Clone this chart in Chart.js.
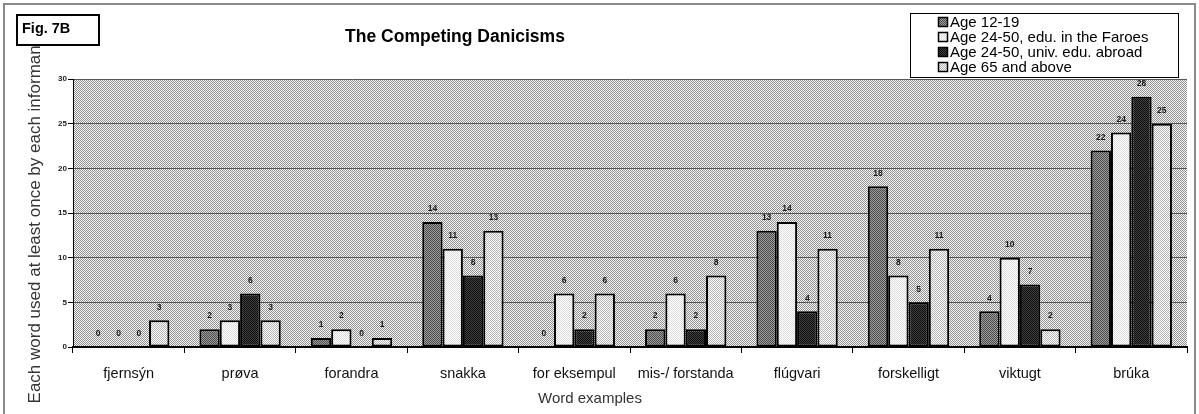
<!DOCTYPE html>
<html>
<head>
<meta charset="utf-8">
<script src="https://cdn.jsdelivr.net/npm/chart.js@4"></script>
<style>
    html, body { margin: 0; padding: 0; background: #fff; overflow: hidden; }
    #wrap { position: relative; width: 1199px; height: 414px; }
    #frame { position: absolute; left: 3px; top: 3px; width: 1189px; height: 440px; border: 2px solid #8a8a8a; pointer-events: none; }
</style>
</head>
<body>
<div id="wrap">
    <canvas id="barChart"></canvas>
    <div id="frame"></div>
</div>
<script>
var categories = ['fjernsýn', 'prøva', 'forandra', 'snakka', 'for eksempul', 'mis-/ forstanda', 'flúgvari', 'forskelligt', 'viktugt', 'brúka'];
var seriesNames = ['Age 12-19', 'Age 24-50, edu. in the Faroes', 'Age 24-50, univ. edu. abroad', 'Age 65 and above'];
var age12to19 = [0, 2, 1, 14, 0, 2, 13, 18, 4, 22];
var age24to50Faroes = [0, 3, 2, 11, 6, 6, 14, 8, 10, 24];
var age24to50Abroad = [0, 6, 0, 8, 2, 2, 4, 5, 7, 28];
var age65plus = [3, 3, 1, 13, 6, 8, 11, 11, 2, 25];
var yTicks = [0, 5, 10, 15, 20, 25, 30];
var yTitle = 'Each word used at least once by each informant';
var xTitle = 'Word examples';

// small dotted fills, like the old print patterns
function dots(light, dark) {
    var c = document.createElement('canvas');
    c.width = 2; c.height = 2;
    var x = c.getContext('2d');
    x.fillStyle = light; x.fillRect(0, 0, 2, 2);
    x.fillStyle = dark; x.fillRect(0, 0, 1, 1); x.fillRect(1, 1, 1, 1);
    return x.createPattern(c, 'repeat');
}

var plotFill = dots('#f4f4f4', '#929292');
var fills = [dots('#9c9c9c', '#4c4c4c'), dots('#ffffff', '#dcdcdc'), dots('#444444', '#0a0a0a'), dots('#ffffff', '#b4b4b4')];
var seriesData = [age12to19, age24to50Faroes, age24to50Abroad, age65plus];

Chart.defaults.font.family = "'Liberation Sans', Arial, sans-serif";
Chart.defaults.color = '#222';

var decor = {
    id: 'decor',
    beforeDraw: function (chart) {
        var a = chart.chartArea, ctx = chart.ctx;
        ctx.save();
        ctx.fillStyle = plotFill;
        ctx.fillRect(a.left, a.top, a.right - a.left, a.bottom - a.top);
        ctx.restore();
    },
    afterDatasetsDraw: function (chart) {
        var ctx = chart.ctx;
        ctx.save();
        ctx.font = 'bold 8.5px "Liberation Sans", Arial, sans-serif';
        ctx.fillStyle = '#1a1a1a';
        ctx.textAlign = 'center';
        ctx.textBaseline = 'middle';
        chart.data.datasets.forEach(function (ds, i) {
            chart.getDatasetMeta(i).data.forEach(function (bar, j) {
                ctx.fillText(ds.data[j], bar.x, bar.y - 13);
            });
        });
        ctx.restore();
    },
    afterDraw: function (chart) {
        var ctx = chart.ctx;
        ctx.save();
        // y axis title (sits a little below the plot centre in the original)
        ctx.save();
        ctx.translate(35, 222);
        ctx.rotate(-Math.PI / 2);
        ctx.font = '17px "Liberation Sans", Arial, sans-serif';
        ctx.fillStyle = '#333';
        ctx.textAlign = 'center';
        ctx.textBaseline = 'middle';
        ctx.fillText(yTitle, 0, 0);
        ctx.restore();
        // fig box
        ctx.fillStyle = '#fff';
        ctx.fillRect(17, 15, 82, 30);
        ctx.strokeStyle = '#000';
        ctx.lineWidth = 2;
        ctx.strokeRect(17, 15, 82, 30);
        ctx.fillStyle = '#000';
        ctx.font = 'bold 14.5px "Liberation Sans", Arial, sans-serif';
        ctx.textBaseline = 'alphabetic';
        ctx.fillText('Fig. 7B', 22, 33);
        // title
        ctx.font = 'bold 17.5px "Liberation Sans", Arial, sans-serif';
        ctx.textAlign = 'center';
        ctx.textBaseline = 'middle';
        ctx.fillText('The Competing Danicisms', 455, 37);
        // x axis title
        ctx.font = '15px "Liberation Sans", Arial, sans-serif';
        ctx.fillStyle = '#333';
        ctx.fillText(xTitle, 590, 399);
        // legend
        ctx.fillStyle = '#fff';
        ctx.fillRect(910, 13, 268, 64);
        ctx.lineWidth = 1;
        ctx.strokeStyle = '#000';
        ctx.strokeRect(910.5, 13.5, 268, 64);
        ctx.textAlign = 'left';
        ctx.font = '15px "Liberation Sans", Arial, sans-serif';
        chart.data.datasets.forEach(function (ds, i) {
            var y = 22 + i * 15;
            ctx.fillStyle = ds.backgroundColor;
            ctx.fillRect(938, y - 5, 10, 10);
            ctx.strokeStyle = '#000';
            ctx.lineWidth = 1.5;
            ctx.strokeRect(938.5, y - 4.5, 9, 9);
            ctx.fillStyle = '#000';
            ctx.fillText(ds.label, 950, y + 1);
        });
        ctx.restore();
    }
};

var barCtx = document.getElementById('barChart').getContext('2d');
var barChart = new Chart(barCtx, {
    type: 'bar',
    data: {
        labels: categories,
        datasets: seriesNames.map(function (name, i) {
            return {
                label: name,
                data: seriesData[i],
                backgroundColor: fills[i],
                borderColor: '#000',
                borderWidth: 2,
                borderSkipped: false,
                categoryPercentage: 0.73,
                barPercentage: 1.0
            };
        })
    },
    options: {
        responsive: true,
        maintainAspectRatio: false,
        animation: false,
        layout: { padding: { top: 79, right: 12, left: 0, bottom: 0 } },
        plugins: { legend: { display: false }, tooltip: { enabled: false } },
        scales: {
            x: {
                afterFit: function (s) { s.height = 67; },
                grid: { offset: true, drawOnChartArea: false, color: '#000', tickLength: 6 },
                border: { display: true, color: '#000', width: 2 },
                ticks: { color: '#111', font: { size: 14.5 }, padding: 12, maxRotation: 0, autoSkip: false }
            },
            y: {
                min: 0,
                max: 30,
                afterFit: function (s) { s.width = 73; },
                afterBuildTicks: function (s) { s.ticks = yTicks.map(function (v) { return { value: v }; }); },
                grid: { color: '#555', lineWidth: 1, tickColor: '#000', tickLength: 5 },
                border: { display: true, color: '#000', width: 1 },
                ticks: { color: '#222', font: { size: 8, weight: 'bold' }, padding: 1 }
            }
        }
    },
    plugins: [decor]
});
</script>
</body>
</html>
